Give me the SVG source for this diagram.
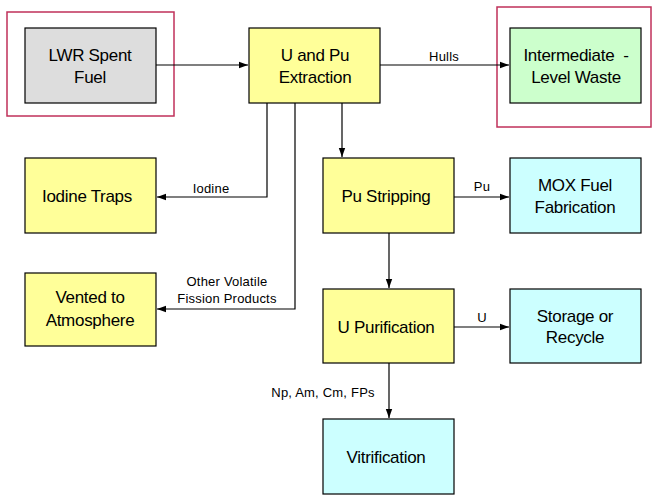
<svg xmlns="http://www.w3.org/2000/svg" width="660" height="501" viewBox="0 0 660 501">
<style>
.box{stroke:#000;stroke-width:1.2}
.y{fill:#FFFF99}.g{fill:#DDDDDD}.gr{fill:#CCFFCC}.c{fill:#CCFFFF}
.frame{fill:none;stroke:#C0305A;stroke-width:1.5}
.t{font-family:"Liberation Sans",Arial,sans-serif;font-size:17px;fill:#000;text-anchor:middle;letter-spacing:-0.3px}
.l{font-family:"Liberation Sans",Arial,sans-serif;font-size:13px;fill:#000;text-anchor:middle;letter-spacing:0.2px}
.cn{fill:none;stroke:#000;stroke-width:1.2}
</style>
<defs>
<marker id="ah" markerWidth="10" markerHeight="8" refX="9" refY="4" orient="auto" markerUnits="userSpaceOnUse">
<path d="M0,0.8 L9,4 L0,7.2 Z" fill="#000"/>
</marker>
</defs>
<rect class="frame" x="7" y="12" width="167" height="104"/>
<rect class="frame" x="497" y="7" width="154" height="120"/>
<g id="lwr"><rect class="box g" x="25" y="28" width="131" height="75"/><text class="t" x="90" y="61">LWR Spent</text><text class="t" x="90" y="83">Fuel</text></g>
<g id="extraction"><rect class="box y" x="249" y="28" width="131" height="75"/><text class="t" x="315" y="61">U and Pu</text><text class="t" x="315" y="83">Extraction</text></g>
<g id="ilw"><rect class="box gr" x="510" y="28" width="131" height="75"/><text class="t" x="576" y="61">Intermediate&#160; -</text><text class="t" x="576" y="83">Level Waste</text></g>
<g id="iodine"><rect class="box y" x="25" y="158" width="131" height="75"/><text class="t" x="87" y="202">Iodine Traps</text></g>
<g id="vented"><rect class="box y" x="25" y="273" width="131" height="73"/><text class="t" x="90" y="303">Vented to</text><text class="t" x="90" y="326">Atmosphere</text></g>
<g id="pustrip"><rect class="box y" x="323" y="158" width="131" height="75"/><text class="t" x="386" y="202">Pu Stripping</text></g>
<g id="mox"><rect class="box c" x="510" y="158" width="131" height="75"/><text class="t" x="575" y="191">MOX Fuel</text><text class="t" x="575" y="213">Fabrication</text></g>
<g id="upur"><rect class="box y" x="323" y="289" width="131" height="74"/><text class="t" x="386" y="333">U Purification</text></g>
<g id="storage"><rect class="box c" x="510" y="289" width="131" height="74"/><text class="t" x="575" y="322">Storage or</text><text class="t" x="575" y="343">Recycle</text></g>
<g id="vitrification"><rect class="box c" x="323" y="419" width="131" height="75"/><text class="t" x="386" y="463">Vitrification</text></g>
<g id="connectors">
<path class="cn" d="M156,65 H248" marker-end="url(#ah)"/>
<path class="cn" d="M380,65 H509" marker-end="url(#ah)"/>
<path class="cn" d="M267,103 V197 H157" marker-end="url(#ah)"/>
<path class="cn" d="M295,103 V309 H157" marker-end="url(#ah)"/>
<path class="cn" d="M342,103 V157" marker-end="url(#ah)"/>
<path class="cn" d="M454,197 H509" marker-end="url(#ah)"/>
<path class="cn" d="M389,233 V288" marker-end="url(#ah)"/>
<path class="cn" d="M454,327 H509" marker-end="url(#ah)"/>
<path class="cn" d="M389,363 V418" marker-end="url(#ah)"/>
<text class="l" x="444" y="61">Hulls</text>
<text class="l" x="211" y="193">Iodine</text>
<text class="l" x="227" y="286">Other Volatile</text>
<text class="l" x="227" y="303">Fission Products</text>
<text class="l" x="482" y="191">Pu</text>
<text class="l" x="482" y="322">U</text>
<text class="l" x="323" y="397">Np, Am, Cm, FPs</text>
</g>
</svg>
